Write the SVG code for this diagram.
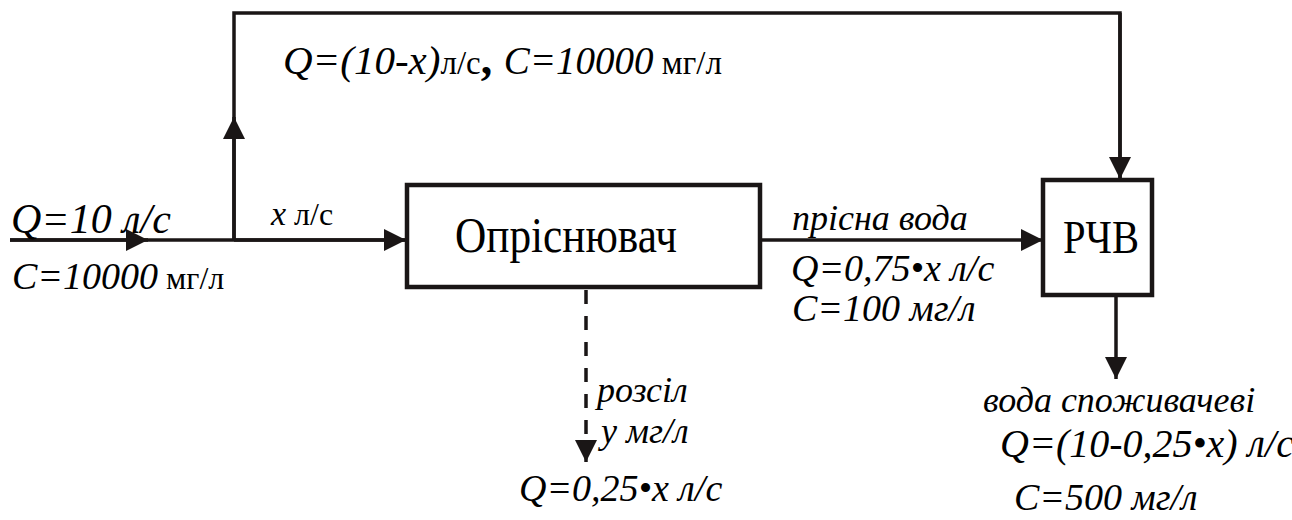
<svg xmlns="http://www.w3.org/2000/svg" width="1292" height="520" viewBox="0 0 1292 520">
<defs>
<marker id="ah" viewBox="0 0 10 10" refX="10" refY="5" markerWidth="22" markerHeight="22" markerUnits="userSpaceOnUse" orient="auto">
<path d="M0,0 L10,5 L0,10 Z" fill="#1a1616"/>
</marker>
</defs>
<rect width="1292" height="520" fill="#fff"/>
<g id="connectors" stroke="#1a1616" stroke-width="3.5" fill="none">
<path d="M10,240 H405"/>
<path d="M10,240 H148" marker-end="url(#ah)"/>
<path d="M234,240 V13 H1120 V178"/>
<path d="M1120,13 V179" marker-end="url(#ah)"/>
<path d="M234,240 V117" marker-end="url(#ah)"/>
<path d="M234,240 H406" marker-end="url(#ah)"/>
<path d="M760,240 H1043" marker-end="url(#ah)"/>
<path d="M1116,295 V379" marker-end="url(#ah)"/>
<path d="M586,290 V440" stroke-dasharray="14,12"/>
<path d="M586,440 V462" marker-end="url(#ah)"/>
</g>
<g id="node-oprisniuvach">
<rect x="407" y="185" width="353" height="102" stroke="#1a1616" stroke-width="4.5" fill="#fff"/>
<text font-family="Liberation Serif" x="455" y="252" font-size="50" textLength="222" lengthAdjust="spacingAndGlyphs">Опріснювач</text>
</g>
<g id="node-rchv">
<rect x="1043" y="180" width="109" height="115" stroke="#1a1616" stroke-width="4.5" fill="#fff"/>
<text font-family="Liberation Serif" x="1063" y="253" font-size="46" textLength="76" lengthAdjust="spacingAndGlyphs">РЧВ</text>
</g>
<text font-family="Liberation Serif" x="283" y="74" font-size="41"><tspan font-style="italic">Q=(10-x)</tspan><tspan font-size="33">л/с</tspan><tspan font-size="46" font-weight="bold">, </tspan><tspan font-size="39" font-style="italic">C=10000</tspan><tspan font-size="33"> мг/л</tspan></text>
<text font-family="Liberation Serif" font-style="italic" x="11" y="233" font-size="42">Q=10 л/с</text>
<text font-family="Liberation Serif" x="12" y="289" font-size="38"><tspan font-style="italic">C=10000</tspan><tspan font-size="32"> мг/л</tspan></text>
<text font-family="Liberation Serif" x="271" y="225" font-size="34"><tspan font-style="italic">x</tspan><tspan font-size="32">  л/с</tspan></text>
<text font-family="Liberation Serif" font-style="italic" x="792" y="230" font-size="36">прісна вода</text>
<text font-family="Liberation Serif" font-style="italic" x="791" y="281" font-size="38">Q=0,75•x л/с</text>
<text font-family="Liberation Serif" font-style="italic" x="792" y="321" font-size="38">C=100 мг/л</text>
<text font-family="Liberation Serif" font-style="italic" x="597" y="402" font-size="36">розсіл</text>
<text font-family="Liberation Serif" font-style="italic" x="601" y="443" font-size="36">y  мг/л</text>
<text font-family="Liberation Serif" font-style="italic" x="519" y="501" font-size="38">Q=0,25•x л/с</text>
<text font-family="Liberation Serif" font-style="italic" x="983" y="412" font-size="36">вода  споживачеві</text>
<text font-family="Liberation Serif" font-style="italic" x="1000" y="457" font-size="40">Q=(10-0,25•x) л/с</text>
<text font-family="Liberation Serif" font-style="italic" x="1014" y="510" font-size="38">C=500 мг/л</text>
</svg>
